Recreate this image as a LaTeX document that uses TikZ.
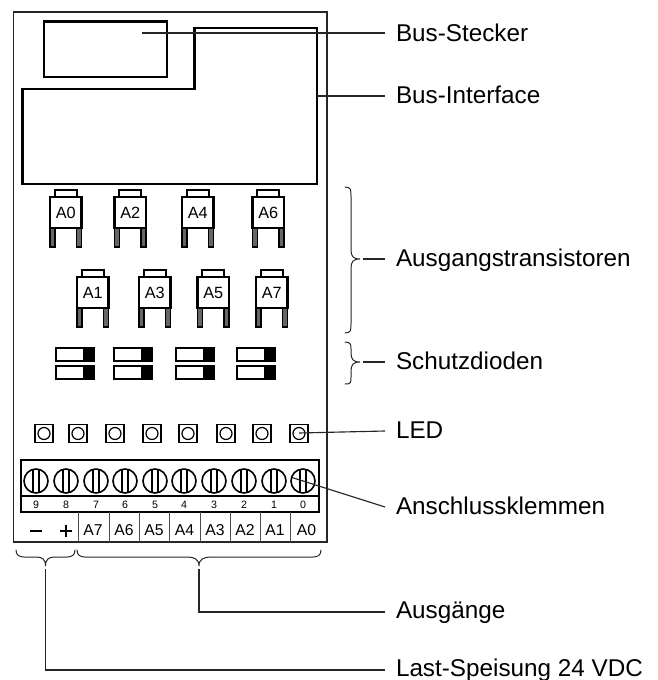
\documentclass[tikz,border=0pt]{standalone}
\usepackage{fontspec}
\setmainfont{Liberation Sans}
\tikzset{
  x=0.75pt,y=-0.75pt,
  thin line/.style={line width=0.9pt,draw=black!85},
  lead/.style={line width=0.85pt,draw=black!85},
  heavy/.style={line width=1.9pt,draw=black,line join=miter},
  med/.style={line width=1.5pt,draw=black},
  bracket/.style={line width=0.75pt,draw=black!85,line cap=round},
  lbl/.style={anchor=west,inner sep=0pt,outer sep=0pt,font=\fontsize{18.2pt}{20pt}\selectfont,text height=13pt,text depth=0pt},
  tag/.style={inner sep=0pt,font=\fontsize{12.2pt}{13pt}\selectfont},
  termtag/.style={inner sep=0pt,font=\fontsize{11.8pt}{13pt}\selectfont},
  num/.style={inner sep=0pt,font=\fontsize{8pt}{9pt}\selectfont},
}
\begin{document}
\begin{tikzpicture}
\useasboundingbox (0,0) rectangle (657,680);
% housing
\draw[thin line,line width=1pt] (13.5,12) rectangle (327,542);
% bus connector and interface
\draw[heavy] (44,21.5) rectangle (167,77);
\draw[heavy] (22.5,89) -- (194.5,89) -- (194.5,28) -- (317,28) -- (317,184) -- (22.5,184) -- cycle;
% transistors
\foreach \xx/\yy/\lab in {50/197/A0,114.5/197/A2,182/197/A4,252.5/197/A6,77/277/A1,139/277/A3,197.5/277/A5,256/277/A7}{
  \fill[black!60] (\xx+0.5,\yy+31) rectangle (\xx+4.5,\yy+49.5);
  \fill[black!60] (\xx+27,\yy+31) rectangle (\xx+31,\yy+49.5);
  \draw[line width=1.3pt] (\xx,\yy+31) rectangle (\xx+5,\yy+50);
  \draw[line width=1.3pt] (\xx+26.5,\yy+31) rectangle (\xx+31.5,\yy+50);
  \draw[med] (\xx+4.5,\yy) -- (\xx+4.5,\yy-7) -- (\xx+26.5,\yy-7) -- (\xx+26.5,\yy);
  \draw[heavy,fill=white] (\xx,\yy) rectangle (\xx+31.5,\yy+31);
  \node[tag] (t\lab) at (\xx+15.7,\yy+15.5) {\lab};
}
% diodes
\foreach \xx in {56,114,176,237}{
  \foreach \yy in {347.5,365.5}{
    \fill[black] (\xx+27,\yy) rectangle (\xx+38,\yy+13.5);
    \draw[med] (\xx,\yy) rectangle (\xx+38,\yy+13.5);
  }
}
% LEDs
\foreach \xx in {44,78,115,152,188,226,262,299}{
  \draw[line width=1.2pt] (\xx-9,424.5) rectangle (\xx+9,442.5);
  \draw[line width=0.9pt] (\xx,433.5) circle (6);
}
\coordinate (ledc) at (299,433);
% terminal strip
\draw[med] (21,460) rectangle (319,512);
\draw[line width=1.9pt] (21,496) -- (319,496);
\foreach \xx/\nn in {36/9,66/8,96/7,125/6,155/5,184/4,214/3,244/2,274/1,303/0}{
  \draw[line width=1.2pt] (\xx,481) circle (12);
  \draw[line width=1.2pt] (\xx-3.2,469.5) -- (\xx-3.2,492.5);
  \draw[line width=1.2pt] (\xx+3.2,469.5) -- (\xx+3.2,492.5);
  \node[num] (n\nn) at (\xx,505) {\nn};
}
\coordinate (screw) at (292,477.5);
% bottom row
\foreach \xx in {78,109,139,169,200,230,260,290}{
  \draw[line width=0.7pt,draw=black!70] (\xx,512) -- (\xx,542);
}
\foreach \xx/\lab in {93/A7,124/A6,154/A5,184.5/A4,215/A3,245/A2,275/A1,306.5/A0}{
  \node[termtag] (b\lab) at (\xx,530) {\lab};
}
\draw[line width=1.7pt] (30,531) -- (42,531);
\draw[line width=1.7pt] (60,531) -- (72,531) (66,525) -- (66,537);
% right braces
\draw[bracket] (345,187) .. controls (351,187) and (351,190) .. (351,196) -- (351,250) .. controls (351,256) and (353,259) .. (360,259)
  .. controls (353,259) and (351,262) .. (351,268) -- (351,324) .. controls (351,330) and (351,333) .. (345,333);
\draw[bracket] (345,342) .. controls (351,342) and (351,345) .. (351,349) -- (351,353) .. controls (351,359) and (353,362) .. (360,362)
  .. controls (353,362) and (351,365) .. (351,371) -- (351,377) .. controls (351,383) and (351,384) .. (345,384);
% bottom braces
\draw[bracket] (16,550) .. controls (16,555) and (19,557) .. (24,557) -- (36,557) .. controls (42,557) and (45.5,559) .. (45.5,566)
  .. controls (45.5,559) and (49,557) .. (55,557) -- (67,557) .. controls (72,557) and (75,555) .. (75,550);
\draw[bracket] (77,550) .. controls (77,555) and (80,557) .. (85,557) -- (187,557) .. controls (194,557) and (199,559) .. (199,566)
  .. controls (199,559) and (204,557) .. (211,557) -- (313,557) .. controls (318,557) and (321,555) .. (321,550);
\coordinate (bl) at (45.5,569);
\coordinate (br) at (199,569);
\coordinate (bt) at (363,259);
\coordinate (bd) at (363,362);
\coordinate (stecker) at (142,33);
\coordinate (iface) at (317,96);
% labels
\node[lbl] (L1) at (396,32.5) {Bus-Stecker};
\node[lbl] (L2) at (396,94.5) {Bus-Interface};
\node[lbl] (L3) at (396,257.5) {Ausgangstransistoren};
\node[lbl] (L4) at (396,361) {Schutzdioden};
\node[lbl] (L5) at (396,430) {LED};
\node[lbl] (L6) at (396,506) {Anschlussklemmen};
\node[lbl] (L7) at (396,610) {Ausgänge};
\node[lbl] (L8) at (396,667.5) {Last-Speisung 24 VDC};
% leaders
\draw[lead] (stecker) -- ([shift={(-11,0.5)}]L1.west);
\draw[lead] (iface) -- ([shift={(-11,1.5)}]L2.west);
\draw[lead] (bt) -- ([shift={(-11,1.5)}]L3.west);
\draw[lead] (bd) -- ([shift={(-11,1)}]L4.west);
\draw[lead] (ledc) -- ([shift={(-11,1)}]L5.west);
\draw[lead] (screw) -- ([shift={(-11,1)}]L6.west);
\draw[lead] (br) |- ([shift={(-11,2)}]L7.west);
\draw[lead] (bl) |- ([shift={(-11,2.5)}]L8.west);
\end{tikzpicture}
\end{document}
